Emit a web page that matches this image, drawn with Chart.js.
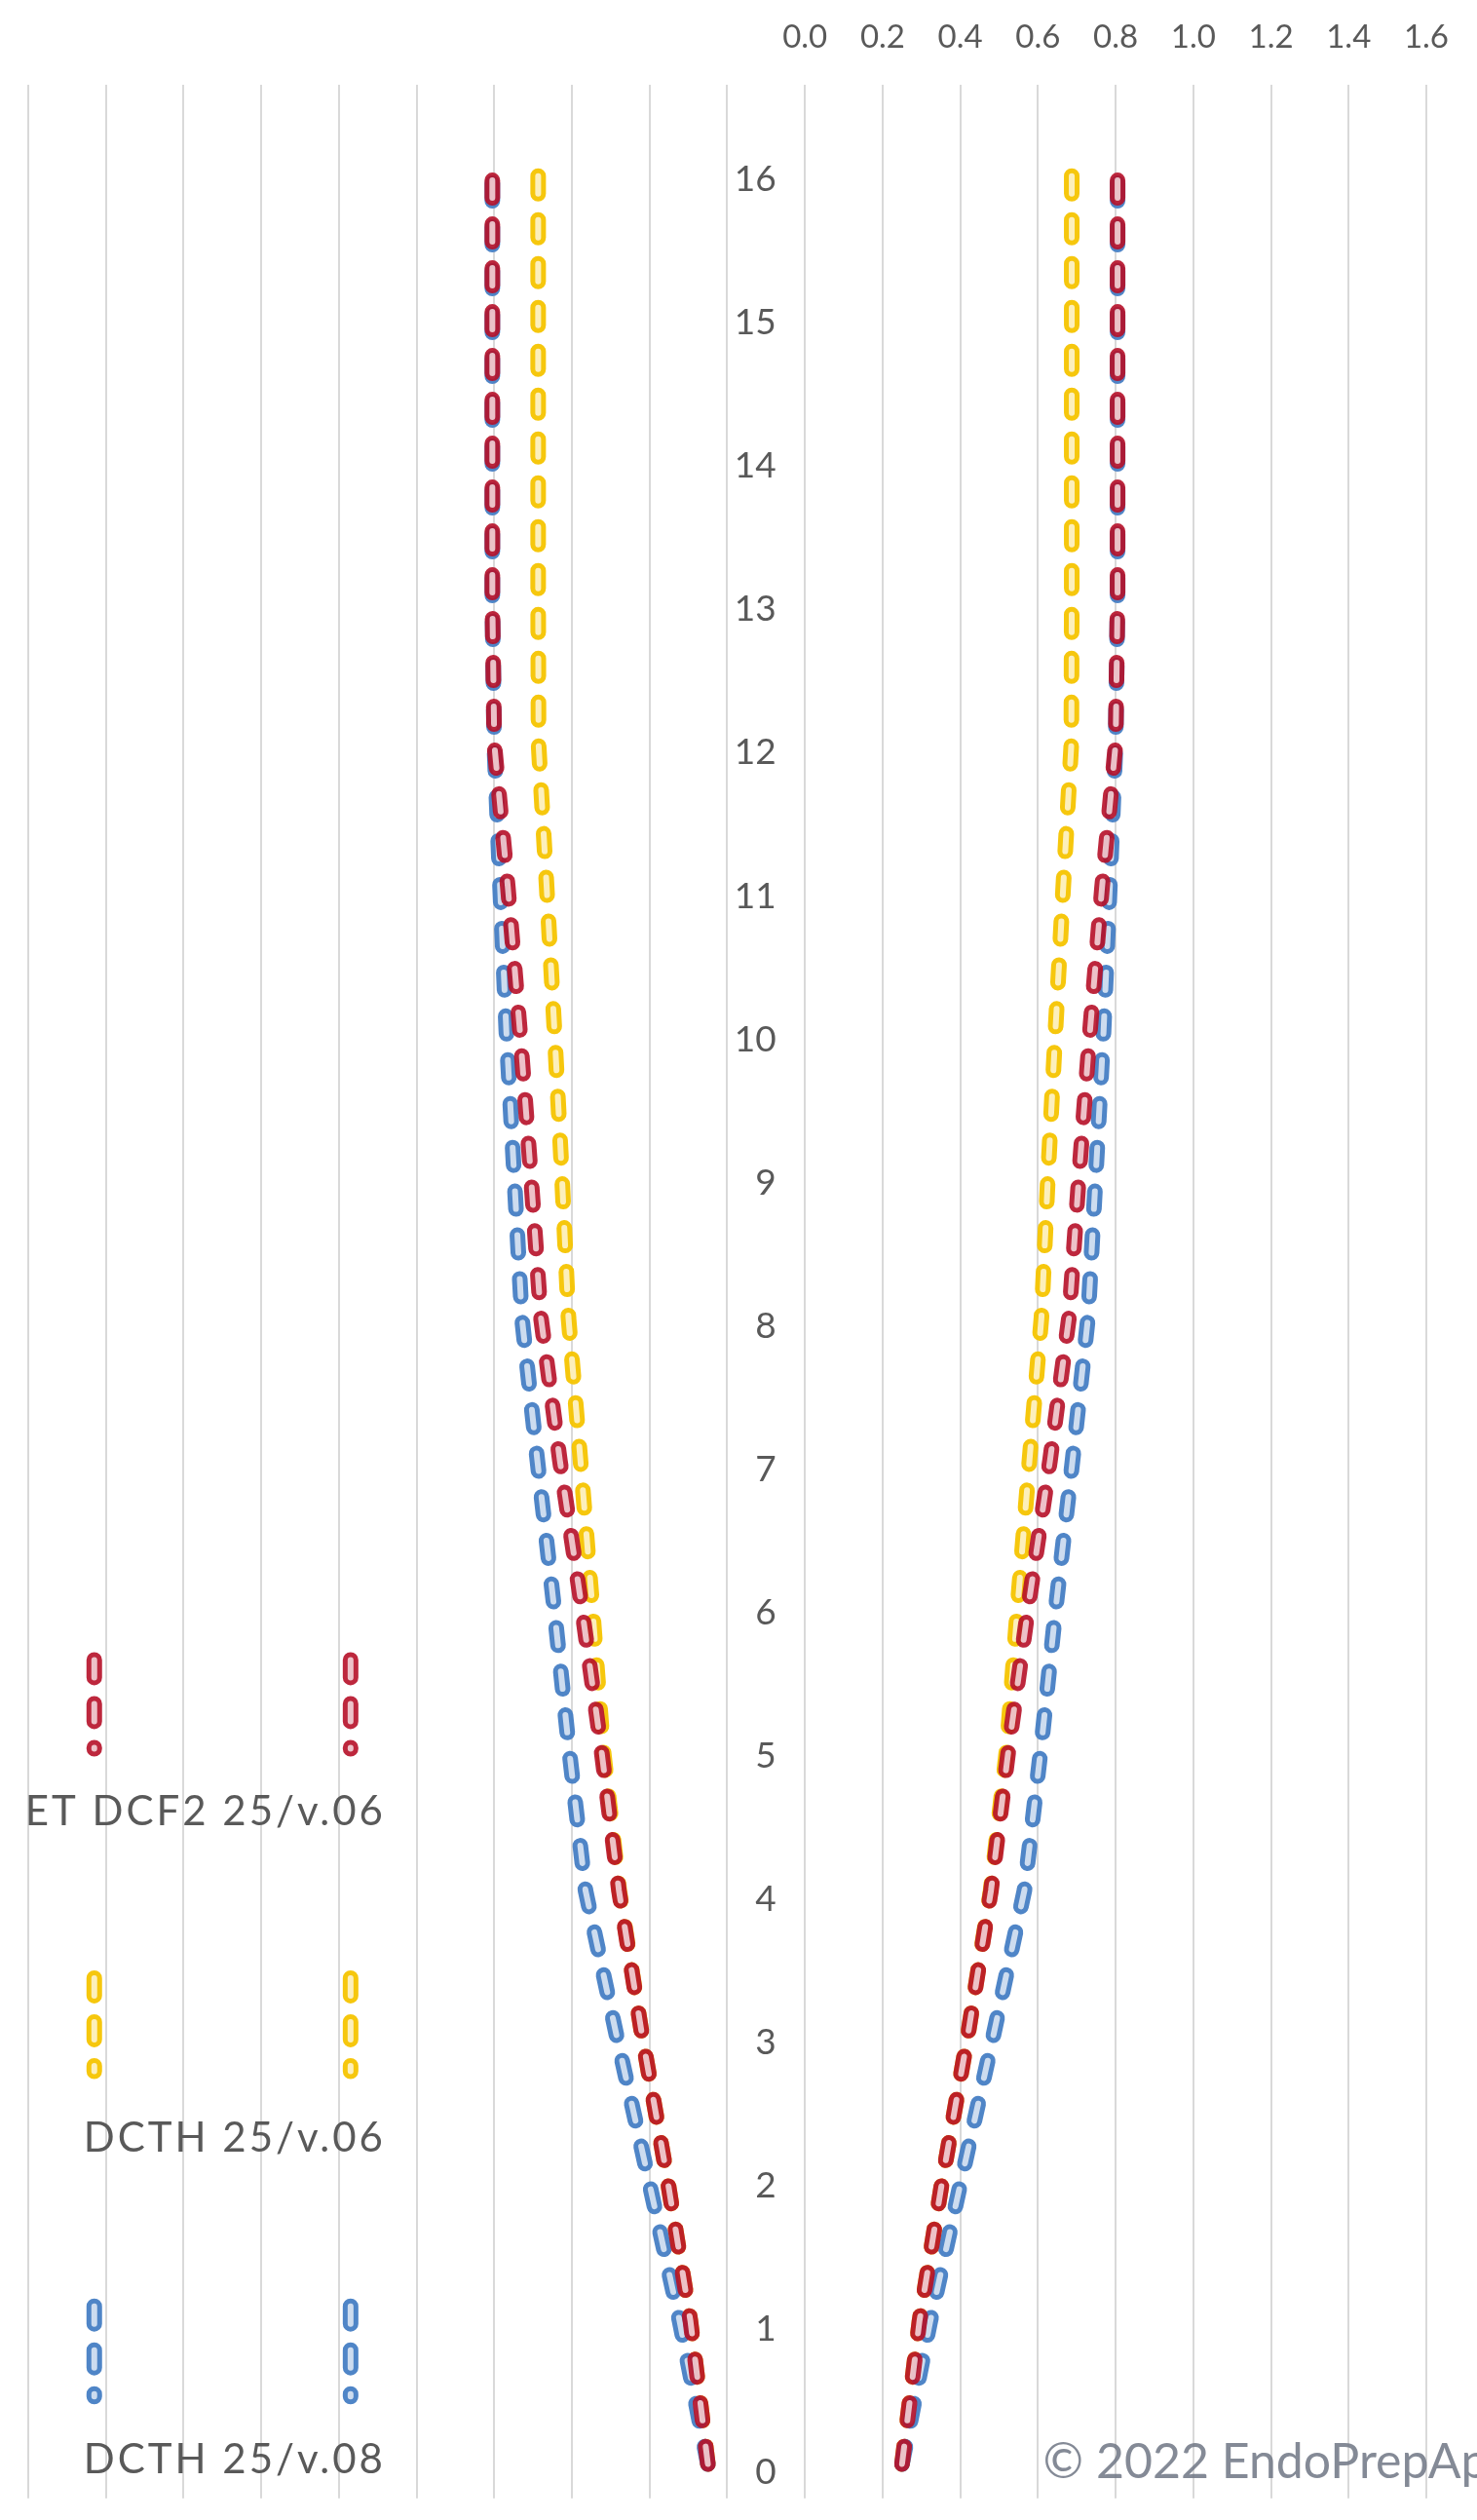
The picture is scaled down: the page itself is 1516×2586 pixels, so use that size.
<!DOCTYPE html>
<html>
<head>
<meta charset="utf-8">
<script src="https://cdn.jsdelivr.net/npm/chart.js@4.4.1/dist/chart.umd.min.js"></script>
<style>
  html, body { margin: 0; padding: 0; background: #fff; }
  #wrap { width: 1516px; height: 2586px; position: relative; }
</style>
</head>
<body>
<div id="wrap"><canvas id="profile"></canvas></div>
<script>
// depth from the tip (mm) and file diameter at that depth (mm)
const depthMm = [0, 1, 2, 3, 4, 5, 6, 7, 8, 9, 10, 11, 12, 13, 14, 15, 16];
const dcf2V06 = [0.25, 0.295, 0.355, 0.42, 0.479, 0.525, 0.576, 0.631, 0.68, 0.706, 0.734, 0.765, 0.80, 0.805, 0.805, 0.805, 0.805];
const dcthV06 = [0.25, 0.295, 0.355, 0.42, 0.478, 0.52, 0.548, 0.578, 0.609, 0.626, 0.645, 0.665, 0.686, 0.687, 0.687, 0.687, 0.687];
const dcthV08 = [0.25, 0.323, 0.404, 0.486, 0.565, 0.608, 0.647, 0.689, 0.729, 0.749, 0.769, 0.785, 0.80, 0.805, 0.805, 0.805, 0.805];

const fileNames = ['ET DCF2 25/v.06', 'DCTH 25/v.06', 'DCTH 25/v.08'];

const xTicks = [-2.0, -1.8, -1.6, -1.4, -1.2, -1.0, -0.8, -0.6, -0.4, -0.2, 0.0, 0.2, 0.4, 0.6, 0.8, 1.0, 1.2, 1.4, 1.6];
const xTickLabels = ['', '', '', '', '', '', '', '', '', '', '0.0', '0.2', '0.4', '0.6', '0.8', '1.0', '1.2', '1.4', '1.6'];
const yTicks = [0, 1, 2, 3, 4, 5, 6, 7, 8, 9, 10, 11, 12, 13, 14, 15, 16];

// where the hand-made key sits on the left (data units)
const keySpots = [
  { top: 5.61, bottom: 4.99, textY: 4.55 },
  { top: 3.39, bottom: 2.74, textY: 2.27 },
  { top: 1.10, bottom: 0.47, textY: 0.03 }
];
const keyX = [-1.83, -1.17];
const keyTextX = -1.087;

const colors = ['rgba(182,16,40,0.9)', 'rgba(245,196,0,0.95)', 'rgba(70,126,196,0.95)'];
const drawRank = [0, 2, 1]; // red on top, then blue, yellow at the bottom
const dash = [18, 27];

const datasets = [];
function addLine(points, color, rank) {
  datasets.push({
    data: points, showLine: true, pointRadius: 0, order: rank * 2 + 1,
    borderColor: color, borderWidth: 16, borderDash: dash,
    borderCapStyle: 'round', borderJoinStyle: 'round', tension: 0
  });
  datasets.push({
    data: points, showLine: true, pointRadius: 0, order: rank * 2,
    borderColor: 'rgba(255,255,255,0.72)', borderWidth: 6, borderDash: dash,
    borderCapStyle: 'round', borderJoinStyle: 'round', tension: 0
  });
}

[dcf2V06, dcthV06, dcthV08].forEach(function(values, i) {
  const rank = drawRank[i];
  addLine(depthMm.map((d, j) => ({ x: values[j], y: d })), colors[i], rank);
  addLine(depthMm.map((d, j) => ({ x: -values[j], y: d })), colors[i], rank);
  keyX.forEach(function(kx) {
    addLine([{ x: kx, y: keySpots[i].top }, { x: kx, y: keySpots[i].bottom }], colors[i], rank);
  });
});

const textPlugin = {
  id: 'fileText',
  afterDatasetsDraw(chart) {
    const { ctx, scales: { x, y } } = chart;
    ctx.save();
    ctx.font = '42px Lato';
    ctx.letterSpacing = '3px';
    ctx.fillStyle = '#595959';
    ctx.textAlign = 'right';
    ctx.textBaseline = 'middle';
    keySpots.forEach(function(s, i) {
      ctx.fillText(fileNames[i], x.getPixelForValue(keyTextX) + 3, y.getPixelForValue(s.textY));
    });
    ctx.letterSpacing = '0px';
    ctx.font = '50px Lato';
    ctx.fillStyle = 'rgba(110,118,132,0.85)';
    ctx.textAlign = 'left';
    ctx.fillText('\u00A9 2022 EndoPrepApp', x.getPixelForValue(0.613), y.getPixelForValue(0.01));
    ctx.restore();
  }
};

new Chart(document.getElementById('profile'), {
  type: 'scatter',
  data: { datasets: datasets },
  plugins: [textPlugin],
  options: {
    responsive: true,
    maintainAspectRatio: false,
    animation: false,
    layout: { padding: { left: 21, right: 38, top: 0, bottom: 0 } },
    plugins: { legend: { display: false }, tooltip: { enabled: false } },
    scales: {
      x: {
        type: 'linear', position: 'top', min: -2.0, max: 1.6,
        afterBuildTicks: function(scale) { scale.ticks = xTicks.map(v => ({ value: v })); },
        afterFit: function(scale) { scale.height = 87; },
        grid: { color: '#d9d9d9', lineWidth: 2, drawTicks: false },
        border: { display: false },
        ticks: {
          padding: 29, color: '#595959', font: { family: 'Lato', size: 33 },
          maxRotation: 0, autoSkip: false,
          callback: function(value, index) { return xTickLabels[index]; }
        }
      },
      y: {
        type: 'linear', position: { x: -0.074 }, min: -0.24, max: 16.6,
        afterBuildTicks: function(scale) { scale.ticks = yTicks.map(v => ({ value: v })); },
        grid: { display: false },
        border: { display: false },
        ticks: { color: '#595959', font: { family: 'Lato', size: 37 }, padding: 0, labelOffset: 9 }
      }
    }
  }
});
</script>
</body>
</html>
